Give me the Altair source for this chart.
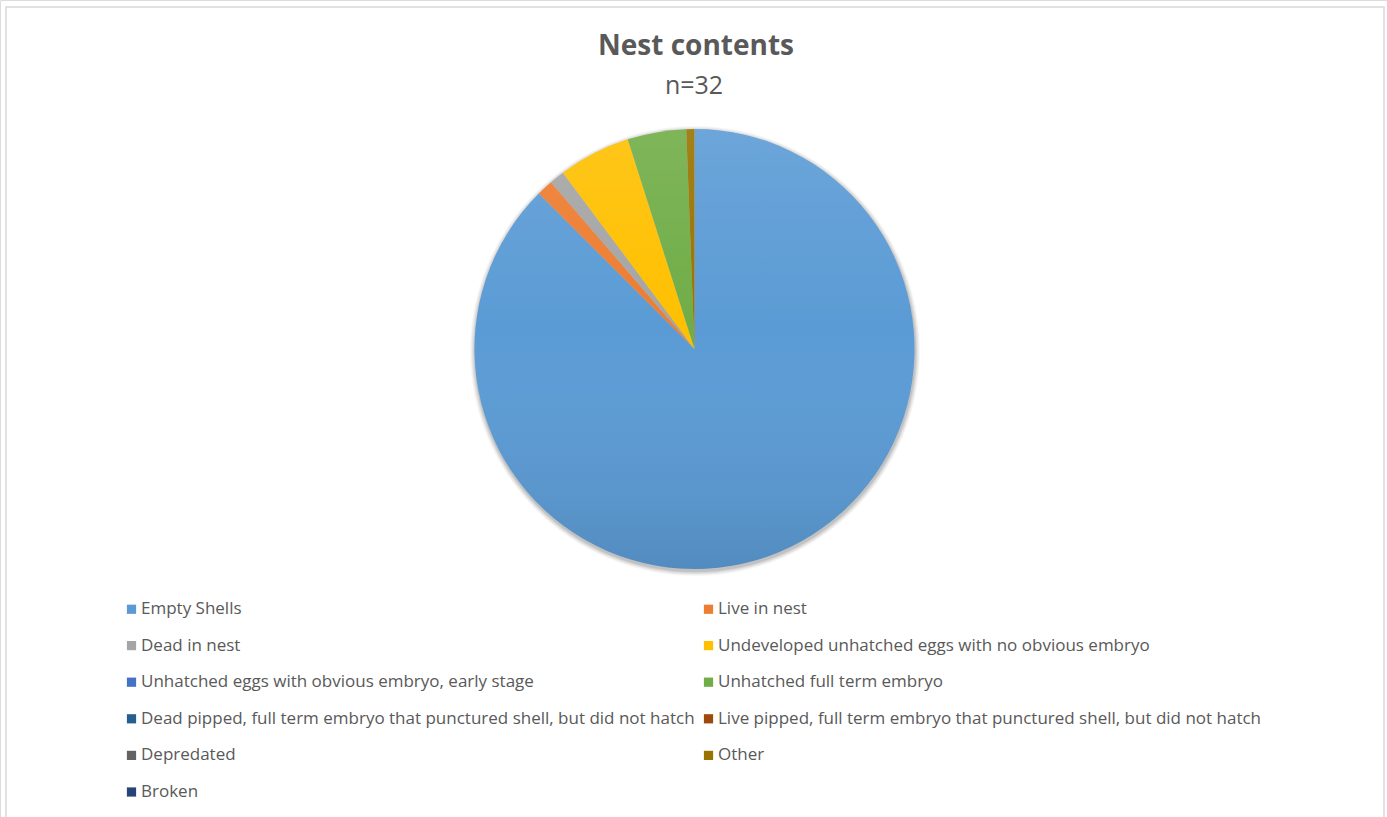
import altair as alt
import pandas as pd

categories = [
    "Empty Shells",
    "Live in nest",
    "Dead in nest",
    "Undeveloped unhatched eggs with no obvious embryo",
    "Unhatched eggs with obvious embryo, early stage",
    "Unhatched full term embryo",
    "Dead pipped, full term embryo that punctured shell, but did not hatch",
    "Live pipped, full term embryo that punctured shell, but did not hatch",
    "Depredated",
    "Other",
    "Broken",
]
values = [874, 12, 11, 53, 0, 43, 0, 0, 0, 6, 0]
colors = ["#5b9bd5", "#ed7d31", "#a5a5a5", "#ffc000", "#4472c4", "#70ad47",
          "#255e91", "#9e480e", "#636363", "#997300", "#264478"]
title_text = "Nest contents"
subtitle_text = "n=32"

df = pd.DataFrame({"category": categories, "value": values,
                   "idx": list(range(len(categories)))})

W, H = 1387, 817
CX, CY, R = 694.5, 349, 220
TXT = "#595959"
FONT = "Open Sans"

one = pd.DataFrame({"a": [0]})

border = alt.Chart(one).mark_rect(fill="white", stroke="#d9d9d9", strokeWidth=1.5).encode(
    x=alt.value(6), x2=alt.value(1384), y=alt.value(7), y2=alt.value(840)
)

shadow_layers = []
for dr, op in [(5, 0.03), (4, 0.04), (3, 0.05), (2, 0.06), (1, 0.08)]:
    shadow_layers.append(
        alt.Chart(one).mark_arc(color="black", opacity=op, outerRadius=R + dr,
                                theta=0, theta2=6.2832).encode(
            x=alt.value(CX + 0.5), y=alt.value(CY + 2)
        )
    )

pie = alt.Chart(df).mark_arc(outerRadius=R).encode(
    theta=alt.Theta("value:Q", stack=True),
    order=alt.Order("idx:Q"),
    color=alt.Color(
        "category:N",
        scale=alt.Scale(domain=categories, range=colors),
        legend=alt.Legend(
            title=None, orient="none", legendX=123, legendY=600.5, columns=2,
            direction="horizontal",
            symbolType="square", symbolSize=85, symbolStrokeWidth=0,
            labelFont=FONT, labelFontSize=17, labelColor=TXT, labelLimit=700,
            labelOffset=1,
            rowPadding=18.6, columnPadding=5, symbolOffset=0, padding=0,
        ),
    ),
    x=alt.value(CX), y=alt.value(CY),
)

overlay = alt.Chart(one).mark_arc(
    outerRadius=R, theta=0, theta2=6.2832,
    color=alt.Gradient(
        gradient="linear", x1=0, x2=0, y1=0, y2=1,
        stops=[alt.GradientStop(color="rgba(255,255,255,0.10)", offset=0),
               alt.GradientStop(color="rgba(255,255,255,0)", offset=0.45),
               alt.GradientStop(color="rgba(0,0,0,0.10)", offset=1)],
    ),
).encode(x=alt.value(CX), y=alt.value(CY))

title = alt.Chart(one).mark_text(
    text=title_text, font=FONT, fontSize=28, fontWeight="bold", color=TXT,
    align="center", baseline="alphabetic"
).encode(x=alt.value(696), y=alt.value(55))

subtitle = alt.Chart(one).mark_text(
    text=subtitle_text, font=FONT, fontSize=25, color=TXT,
    align="center", baseline="alphabetic"
).encode(x=alt.value(694), y=alt.value(94))

chart = alt.layer(border, *shadow_layers, pie, overlay, title, subtitle).properties(
    width=W, height=H, padding=0, autosize=alt.AutoSizeParams(type="none")
).configure_view(stroke=None).configure(background="white")

chart.save("out.html", embed_options={"renderer": "svg", "actions": False})
